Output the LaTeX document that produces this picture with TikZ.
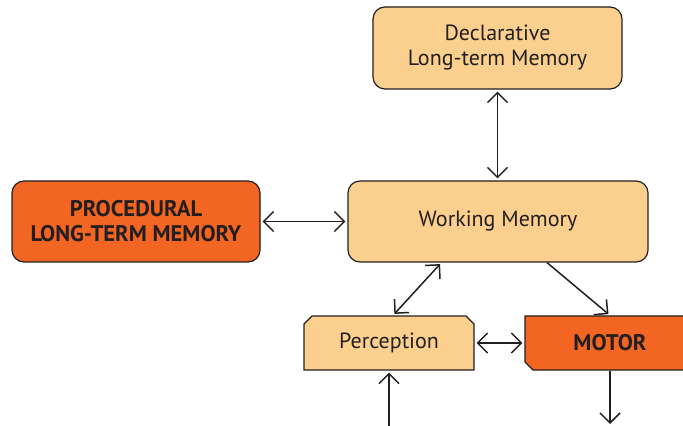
\documentclass[tikz,border=0pt]{standalone}
\usepackage{fontspec}
\setmainfont{PT Sans}
\usetikzlibrary{arrows.meta,shapes.misc}

\definecolor{paleorange}{HTML}{FBD08F}
\definecolor{deeporange}{HTML}{F26522}
\definecolor{inkgray}{HTML}{231F20}

\tikzset{
  membox/.style={draw=inkgray, line width=0.6pt, rounded corners=6pt, align=center,
    text=inkgray, font=\fontsize{11}{12.5}\selectfont, inner sep=0pt},
  softbox/.style={membox, fill=paleorange},
  hotbox/.style={membox, fill=deeporange, font=\fontsize{11.3}{12.5}\selectfont\bfseries},
  cutbox/.style={draw=inkgray, line width=0.6pt, chamfered rectangle, chamfered rectangle xsep=2pt,
    chamfered rectangle ysep=2pt, text=inkgray, inner sep=0pt,
    minimum width=85pt, minimum height=27pt},
  link/.style={line width=0.75pt, draw=inkgray, {Straight Barb[length=5pt,width=10pt]}-{Straight Barb[length=5pt,width=10pt]}, shorten <=1pt, shorten >=1pt},
  onelink/.style={line width=0.75pt, draw=inkgray, -{Straight Barb[length=5pt,width=10pt]}, shorten >=1pt}
}

\begin{document}
\begin{tikzpicture}[x=0.5pt,y=-0.5pt]
\useasboundingbox (0,0) rectangle (683,426);

% memory boxes
\node[softbox, minimum width=124.5pt, minimum height=41pt] (decl) at (497.5,48) {Declarative\\Long-term Memory};
\node[softbox, minimum width=150pt, minimum height=40.5pt] (work) at (498,221.5) {Working Memory};
\node[hotbox, minimum width=124pt, minimum height=40.5pt] (proc) at (136,221.5) {PROCEDURAL\\LONG-TERM MEMORY};

% perception and motor
\node[cutbox, fill=paleorange, chamfered rectangle corners={north west,north east},
  font=\fontsize{11}{12.5}\selectfont] (perc) at (389,343) {Perception};
\node[cutbox, fill=deeporange, chamfered rectangle corners=south west,
  font=\fontsize{11.3}{12.5}\selectfont\bfseries] (motor) at (610,343) {MOTOR};

% free ends at the bottom edge
\coordinate (percin) at (389,428);
\coordinate (motorout) at (610,426);

\draw[link] (decl.south) -- (decl.south |- work.north);
\draw[link] (proc.east) -- (work.west);
\draw[link] (work.216) -- ([xshift=2pt]perc.north);
\draw[onelink] (work.-40) -- (motor.north);
\draw[link] (perc.east) -- (motor.west);
\draw[onelink] (percin) -- (perc.south);
\draw[onelink] (motor.south) -- (motorout);
\end{tikzpicture}
\end{document}
